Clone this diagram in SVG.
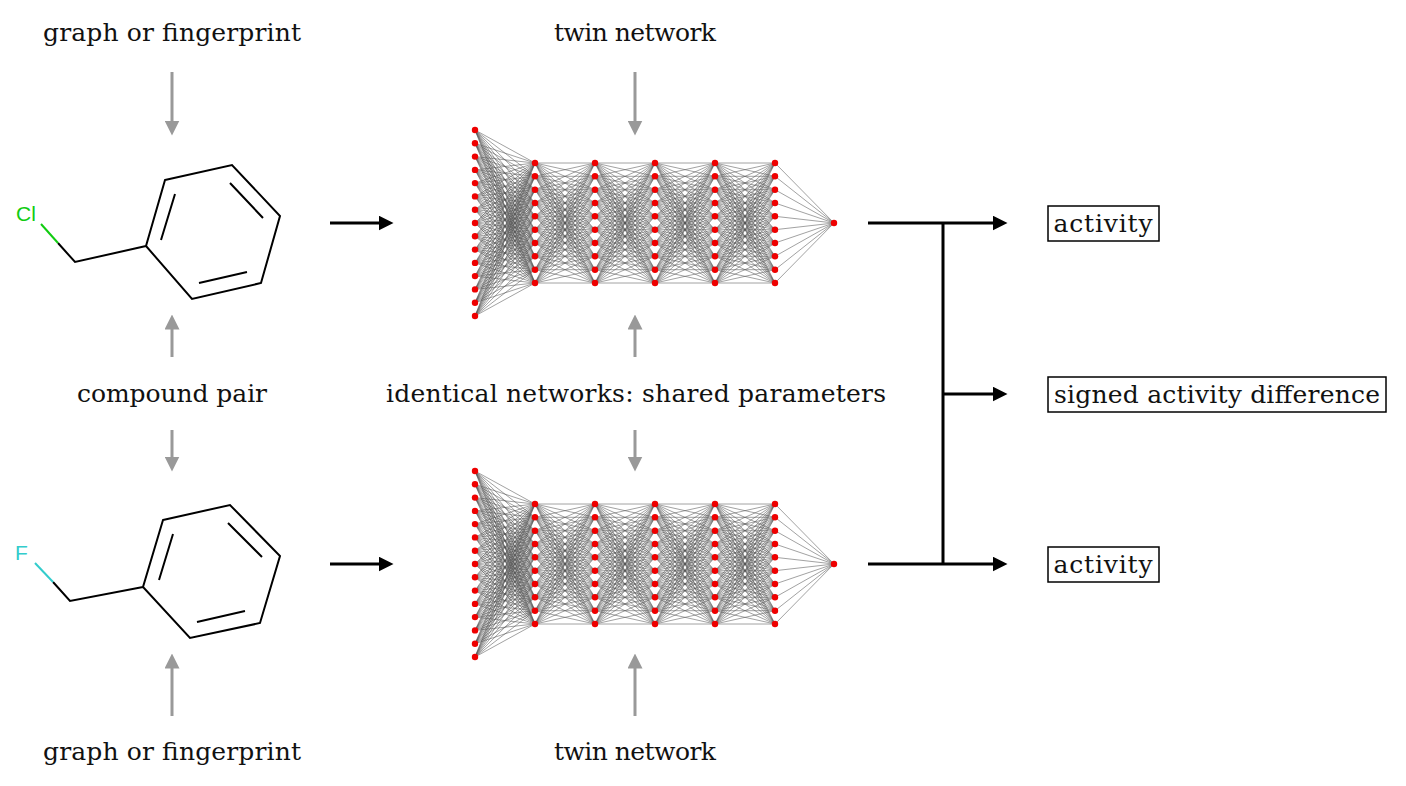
<svg xmlns="http://www.w3.org/2000/svg" xmlns:xlink="http://www.w3.org/1999/xlink" width="1406" height="786" viewBox="0 0 1406 786">
<style>
text{font-family:"DejaVu Serif","Liberation Serif",serif;font-size:25px;fill:#111}
.g{stroke:#999;stroke-width:3;fill:none}
.k{stroke:#000;stroke-width:3;fill:none}
.w{stroke:#555;stroke-width:0.55;fill:none}
.b{stroke:#000;stroke-width:2;fill:none}
.n{fill:#e00}
.box{fill:#fff;stroke:#000;stroke-width:1.5}
</style>
<defs>
<marker id="ag" markerWidth="5" markerHeight="5" refX="2.5" refY="2.5" orient="auto" markerUnits="strokeWidth"><path d="M0,0L5,2.5L0,5Z" fill="#999"/></marker>
<marker id="ak" markerWidth="5" markerHeight="5" refX="2.5" refY="2.5" orient="auto" markerUnits="strokeWidth"><path d="M0,0L5,2.5L0,5Z" fill="#000"/></marker>
<g id="net">
<path class="w" id="inh" d="
M475 130L535 163M475 130L535 176.3M475 130L535 189.7M475 130L535 203M475 130L535 216.3M475 130L535 229.7M475 130L535 243M475 130L535 256.3M475 130L535 269.7M475 130L535 283
M475 143.3L535 163M475 143.3L535 176.3M475 143.3L535 189.7M475 143.3L535 203M475 143.3L535 216.3M475 143.3L535 229.7M475 143.3L535 243M475 143.3L535 256.3M475 143.3L535 269.7M475 143.3L535 283
M475 156.6L535 163M475 156.6L535 176.3M475 156.6L535 189.7M475 156.6L535 203M475 156.6L535 216.3M475 156.6L535 229.7M475 156.6L535 243M475 156.6L535 256.3M475 156.6L535 269.7M475 156.6L535 283
M475 169.9L535 163M475 169.9L535 176.3M475 169.9L535 189.7M475 169.9L535 203M475 169.9L535 216.3M475 169.9L535 229.7M475 169.9L535 243M475 169.9L535 256.3M475 169.9L535 269.7M475 169.9L535 283
M475 183.1L535 163M475 183.1L535 176.3M475 183.1L535 189.7M475 183.1L535 203M475 183.1L535 216.3M475 183.1L535 229.7M475 183.1L535 243M475 183.1L535 256.3M475 183.1L535 269.7M475 183.1L535 283
M475 196.4L535 163M475 196.4L535 176.3M475 196.4L535 189.7M475 196.4L535 203M475 196.4L535 216.3M475 196.4L535 229.7M475 196.4L535 243M475 196.4L535 256.3M475 196.4L535 269.7M475 196.4L535 283
M475 209.7L535 163M475 209.7L535 176.3M475 209.7L535 189.7M475 209.7L535 203M475 209.7L535 216.3M475 209.7L535 229.7M475 209.7L535 243M475 209.7L535 256.3M475 209.7L535 269.7M475 209.7L535 283
M475 223L535 163M475 223L535 176.3M475 223L535 189.7M475 223L535 203M475 223L535 216.3M475 223L535 229.7M475 223L535 243M475 223L535 256.3M475 223L535 269.7M475 223L535 283
M475 236.3L535 163M475 236.3L535 176.3M475 236.3L535 189.7M475 236.3L535 203M475 236.3L535 216.3M475 236.3L535 229.7M475 236.3L535 243M475 236.3L535 256.3M475 236.3L535 269.7M475 236.3L535 283
M475 249.6L535 163M475 249.6L535 176.3M475 249.6L535 189.7M475 249.6L535 203M475 249.6L535 216.3M475 249.6L535 229.7M475 249.6L535 243M475 249.6L535 256.3M475 249.6L535 269.7M475 249.6L535 283
M475 262.9L535 163M475 262.9L535 176.3M475 262.9L535 189.7M475 262.9L535 203M475 262.9L535 216.3M475 262.9L535 229.7M475 262.9L535 243M475 262.9L535 256.3M475 262.9L535 269.7M475 262.9L535 283
M475 276.1L535 163M475 276.1L535 176.3M475 276.1L535 189.7M475 276.1L535 203M475 276.1L535 216.3M475 276.1L535 229.7M475 276.1L535 243M475 276.1L535 256.3M475 276.1L535 269.7M475 276.1L535 283
M475 289.4L535 163M475 289.4L535 176.3M475 289.4L535 189.7M475 289.4L535 203M475 289.4L535 216.3M475 289.4L535 229.7M475 289.4L535 243M475 289.4L535 256.3M475 289.4L535 269.7M475 289.4L535 283
M475 302.7L535 163M475 302.7L535 176.3M475 302.7L535 189.7M475 302.7L535 203M475 302.7L535 216.3M475 302.7L535 229.7M475 302.7L535 243M475 302.7L535 256.3M475 302.7L535 269.7M475 302.7L535 283
M475 316L535 163M475 316L535 176.3M475 316L535 189.7M475 316L535 203M475 316L535 216.3M475 316L535 229.7M475 316L535 243M475 316L535 256.3M475 316L535 269.7M475 316L535 283"/>
<path class="w" id="hh" d="
M535 163L595 163M535 163L595 176.3M535 163L595 189.7M535 163L595 203M535 163L595 216.3M535 163L595 229.7M535 163L595 243M535 163L595 256.3M535 163L595 269.7M535 163L595 283
M535 176.3L595 163M535 176.3L595 176.3M535 176.3L595 189.7M535 176.3L595 203M535 176.3L595 216.3M535 176.3L595 229.7M535 176.3L595 243M535 176.3L595 256.3M535 176.3L595 269.7M535 176.3L595 283
M535 189.7L595 163M535 189.7L595 176.3M535 189.7L595 189.7M535 189.7L595 203M535 189.7L595 216.3M535 189.7L595 229.7M535 189.7L595 243M535 189.7L595 256.3M535 189.7L595 269.7M535 189.7L595 283
M535 203L595 163M535 203L595 176.3M535 203L595 189.7M535 203L595 203M535 203L595 216.3M535 203L595 229.7M535 203L595 243M535 203L595 256.3M535 203L595 269.7M535 203L595 283
M535 216.3L595 163M535 216.3L595 176.3M535 216.3L595 189.7M535 216.3L595 203M535 216.3L595 216.3M535 216.3L595 229.7M535 216.3L595 243M535 216.3L595 256.3M535 216.3L595 269.7M535 216.3L595 283
M535 229.7L595 163M535 229.7L595 176.3M535 229.7L595 189.7M535 229.7L595 203M535 229.7L595 216.3M535 229.7L595 229.7M535 229.7L595 243M535 229.7L595 256.3M535 229.7L595 269.7M535 229.7L595 283
M535 243L595 163M535 243L595 176.3M535 243L595 189.7M535 243L595 203M535 243L595 216.3M535 243L595 229.7M535 243L595 243M535 243L595 256.3M535 243L595 269.7M535 243L595 283
M535 256.3L595 163M535 256.3L595 176.3M535 256.3L595 189.7M535 256.3L595 203M535 256.3L595 216.3M535 256.3L595 229.7M535 256.3L595 243M535 256.3L595 256.3M535 256.3L595 269.7M535 256.3L595 283
M535 269.7L595 163M535 269.7L595 176.3M535 269.7L595 189.7M535 269.7L595 203M535 269.7L595 216.3M535 269.7L595 229.7M535 269.7L595 243M535 269.7L595 256.3M535 269.7L595 269.7M535 269.7L595 283
M535 283L595 163M535 283L595 176.3M535 283L595 189.7M535 283L595 203M535 283L595 216.3M535 283L595 229.7M535 283L595 243M535 283L595 256.3M535 283L595 269.7M535 283L595 283"/>
<use xlink:href="#hh" transform="translate(60,0)"/>
<use xlink:href="#hh" transform="translate(120,0)"/>
<use xlink:href="#hh" transform="translate(180,0)"/>
<path class="w" d="M775 163L834 223M775 176.3L834 223M775 189.7L834 223M775 203L834 223M775 216.3L834 223M775 229.7L834 223M775 243L834 223M775 256.3L834 223M775 269.7L834 223M775 283L834 223"/>
<g class="n">
<g id="inl"><circle cx="475" cy="130" r="3.2"/><circle cx="475" cy="143.3" r="3.2"/><circle cx="475" cy="156.6" r="3.2"/><circle cx="475" cy="169.9" r="3.2"/><circle cx="475" cy="183.1" r="3.2"/><circle cx="475" cy="196.4" r="3.2"/><circle cx="475" cy="209.7" r="3.2"/><circle cx="475" cy="223" r="3.2"/><circle cx="475" cy="236.3" r="3.2"/><circle cx="475" cy="249.6" r="3.2"/><circle cx="475" cy="262.9" r="3.2"/><circle cx="475" cy="276.1" r="3.2"/><circle cx="475" cy="289.4" r="3.2"/><circle cx="475" cy="302.7" r="3.2"/><circle cx="475" cy="316" r="3.2"/></g>
<g id="hl"><circle cx="535" cy="163" r="3.2"/><circle cx="535" cy="176.3" r="3.2"/><circle cx="535" cy="189.7" r="3.2"/><circle cx="535" cy="203" r="3.2"/><circle cx="535" cy="216.3" r="3.2"/><circle cx="535" cy="229.7" r="3.2"/><circle cx="535" cy="243" r="3.2"/><circle cx="535" cy="256.3" r="3.2"/><circle cx="535" cy="269.7" r="3.2"/><circle cx="535" cy="283" r="3.2"/></g>
<use xlink:href="#hl" transform="translate(60,0)"/>
<use xlink:href="#hl" transform="translate(120,0)"/>
<use xlink:href="#hl" transform="translate(180,0)"/>
<use xlink:href="#hl" transform="translate(240,0)"/>
<circle cx="834" cy="223" r="3.2"/>
</g>
</g>
</defs>

<g id="mol1">
<path class="b" d="M165 180L232 165L280 216L261 283L192 299L146 246ZM146 246L75 262L58 243"/>
<path class="b" d="M161 240L175 194M230 183L263 218M199 283L247 272"/>
<path d="M58 243L41 224" stroke="#1c1" stroke-width="2"/>
<text x="16" y="221" style="font-family:'Liberation Sans',sans-serif;font-size:21px;fill:#1c1">Cl</text>
</g>
<g id="mol2">
<path class="b" d="M163 520L230 505L280 556L260 623L190 638L143 587ZM143 587L70 601L53 582"/>
<path class="b" d="M159 580L173 534M228 523L262 557M197 622L245 611"/>
<path d="M53 582L35 563" stroke="#3cc" stroke-width="2"/>
<text x="15" y="560" style="font-family:'Liberation Sans',sans-serif;font-size:21px;fill:#3cc">F</text>
</g>
<g id="net1"><use xlink:href="#net"/></g>
<g id="net2"><use xlink:href="#net" transform="translate(0,341)"/></g>

<g id="labels">
<text x="172" y="41" text-anchor="middle" textLength="258">graph or fingerprint</text>
<text x="172" y="402" text-anchor="middle" textLength="190">compound pair</text>
<text x="172" y="760" text-anchor="middle" textLength="258">graph or fingerprint</text>
<text x="635" y="41" text-anchor="middle" textLength="162">twin network</text>
<text x="636" y="402" text-anchor="middle" textLength="500">identical networks: shared parameters</text>
<text x="635" y="760" text-anchor="middle" textLength="162">twin network</text>
</g>
<g id="out1"><rect class="box" x="1048" y="206" width="111" height="35"/><text x="1103" y="232" text-anchor="middle" textLength="99">activity</text></g>
<g id="out2"><rect class="box" x="1048" y="377" width="338" height="35"/><text x="1217" y="403" text-anchor="middle" textLength="326">signed activity difference</text></g>
<g id="out3"><rect class="box" x="1048" y="547" width="111" height="35"/><text x="1103" y="573" text-anchor="middle" textLength="99">activity</text></g>

<g id="connectors">
<path class="g" marker-end="url(#ag)" d="M172 72V128"/>
<path class="g" marker-end="url(#ag)" d="M172 357V322"/>
<path class="g" marker-end="url(#ag)" d="M172 430V464"/>
<path class="g" marker-end="url(#ag)" d="M172 716V661"/>
<path class="g" marker-end="url(#ag)" d="M635 72V128"/>
<path class="g" marker-end="url(#ag)" d="M635 357V322"/>
<path class="g" marker-end="url(#ag)" d="M635 430V464"/>
<path class="g" marker-end="url(#ag)" d="M635 716V661"/>
<path class="k" marker-end="url(#ak)" d="M330 223H386"/>
<path class="k" marker-end="url(#ak)" d="M330 564H386"/>
<path class="k" marker-end="url(#ak)" d="M868 223H1000"/>
<path class="k" marker-end="url(#ak)" d="M868 564H1000"/>
<path class="k" d="M943 223V564"/>
<path class="k" marker-end="url(#ak)" d="M943 394H1000"/>
</g>
</svg>
